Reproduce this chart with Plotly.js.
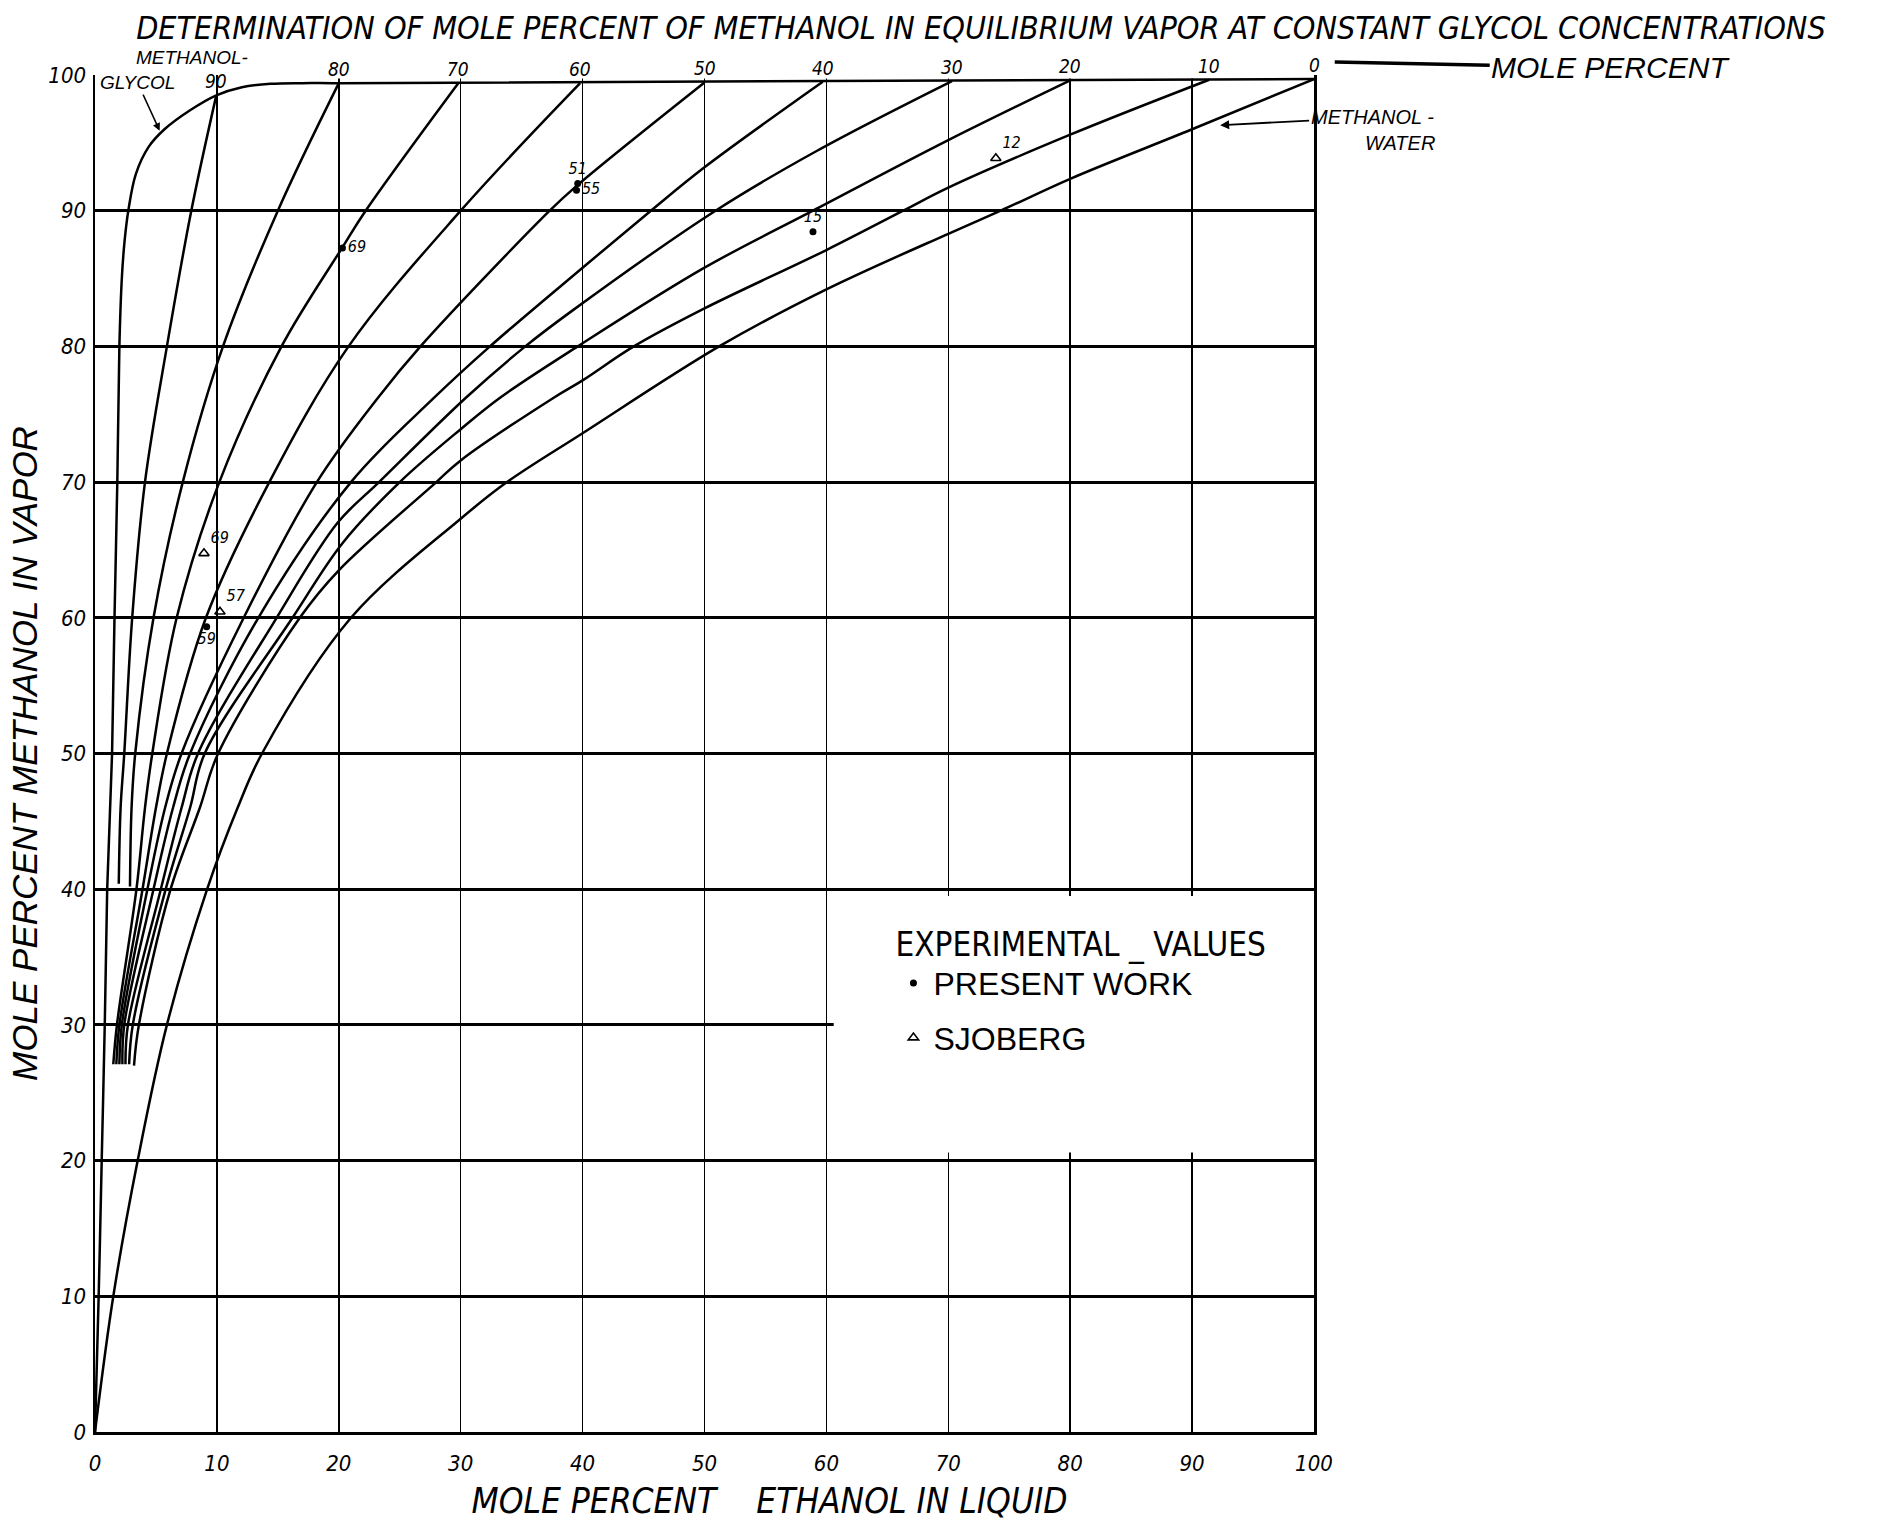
<!DOCTYPE html>
<html>
<head>
<meta charset="utf-8">
<script src="https://cdn.plot.ly/plotly-3.0.1.min.js"></script>
<style>
  html, body { margin: 0; padding: 0; background: #ffffff; }
  #chart { width: 1901px; height: 1526px; }
</style>
</head>
<body>
<div id="chart"></div>
<script>
// ---------------- DATA ----------------
// x = mole percent ethanol in liquid, y = mole percent methanol in vapor
const glycolX = [0, 0.3, 0.55, 0.8, 1.0, 1.4, 1.6, 1.83, 2.0, 2.2, 2.43, 2.75, 3.35, 4.4, 5.7, 7.8, 9.95, 12.05, 14.4, 17, 20, 100];
const glycolY = [0, 10, 20, 30, 40, 50, 60, 70, 80, 85, 87.8, 90.1, 92.7, 94.7, 96.0, 97.4, 98.5, 99.1, 99.35, 99.4, 99.4, 99.7];

const g90X = [1.95, 2.1, 2.4, 3.05, 4.1, 5.9, 7.9, 9.95];
const g90Y = [40.4, 46, 50, 60, 70, 80, 90, 98.5];

const g80X = [2.87, 3.0, 3.3, 4.8, 7.2, 10.5, 15.0, 20];
const g80Y = [40.2, 46, 50, 60, 70, 80, 90, 99.4];

const g70X = [1.5, 1.8, 3.4, 4.1, 4.7, 6.7, 10.2, 15.3, 20.3, 22.2, 29.8];
const g70Y = [27.1, 30, 40, 46, 50, 60, 70, 80, 87.3, 90, 99.4];

const g60X = [1.75, 2.0, 3.9, 5.0, 5.9, 9.1, 14.3, 20.8, 30.0, 39.8];
const g60Y = [27.1, 30, 40, 46, 50, 60, 70, 80, 90, 99.4];

const g50X = [2.0, 2.2, 4.3, 5.75, 7.1, 12.2, 18.2, 23.2, 26.7, 37.3, 39.6, 50];
const g50Y = [27.1, 30, 40, 46, 50, 60, 70, 76.2, 80, 90, 91.9, 99.45];

const g40X = [2.25, 2.4, 4.8, 6.4, 7.8, 13.4, 21.0, 27.8, 32.4, 40, 45.6, 50, 59.7];
const g40Y = [27.1, 30, 40, 46, 50, 60, 70, 76.2, 80, 85.8, 90, 93.2, 99.5];

const g30X = [2.5, 2.7, 5.4, 7.1, 8.45, 14.9, 19.9, 23.3, 30.4, 35.3, 39.1, 50.9, 59.2, 70.3];
const g30Y = [27.1, 30, 40, 46, 50, 60, 67, 70, 76.2, 80, 82.6, 90, 94.4, 99.55];

const g20X = [2.8, 3.1, 5.8, 7.8, 9.0, 16.2, 20.3, 25, 30, 33.2, 39.6, 50, 58.9, 70, 80];
const g20Y = [27.1, 30, 40, 46, 50, 60, 65.5, 70, 73.9, 76.2, 80, 85.8, 90, 95.2, 99.6];

const g10X = [3.2, 3.6, 6.2, 8.6, 10.1, 16.8, 20, 28, 30, 37.6, 40, 44.2, 50, 60, 66.3, 70, 80, 91.4];
const g10Y = [27.0, 30, 40, 46, 50, 60, 63.5, 70, 71.6, 76.2, 77.5, 80, 82.8, 87.1, 90, 91.7, 95.6, 99.65];

const waterX = [0, 1.5, 3.5, 5.9, 9.2, 11.7, 13.7, 21, 30, 33.8, 40, 51.2, 60, 70, 74.3, 80, 90, 100];
const waterY = [0, 10, 20, 30, 40, 46, 50, 60, 67.3, 70, 73.6, 80, 84.2, 88.3, 90, 92.35, 96.0, 99.7];

// glycol concentration (mole percent) labels of the constant-glycol curves
const glycolLabels = ['90', '80', '70', '60', '50', '40', '30', '20', '10', '0'];

// experimental values
const presentX = [20.3, 39.6, 39.5, 58.9, 9.16];
const presentY = [87.25, 92.0, 91.5, 88.45, 59.34];
const presentText = ['69', '51', '55', '15', '59'];

const sjobergX = [73.9, 8.94, 10.25];
const sjobergY = [93.86, 64.75, 60.45];
const sjobergText = ['12', '69', '57'];

// axis ticks
const xTickVals = [0, 10, 20, 30, 40, 50, 60, 70, 80, 90, 100];
const xTickText = ['0', '10', '20', '30', '40', '50', '60', '70', '80', '90', '100'];
const yTickVals = [0, 10, 20, 30, 40, 50, 60, 70, 80, 90, 100];
const yTickText = ['0', '10', '20', '30', '40', '50', '60', '70', '80', '90', '100'];
const yGridVals = [10, 20, 30, 40, 50, 60, 70, 80, 90];

// ---------------- STYLE ----------------
const NARROW = '"Liberation Sans Narrow", "DejaVu Sans Condensed", "Liberation Sans", sans-serif';
const REG = '"Liberation Sans", Arial, sans-serif';
const INK = '#000000';

const curves = [
  { name: 'METHANOL-GLYCOL', x: glycolX, y: glycolY },
  { name: '90', x: g90X, y: g90Y },
  { name: '80', x: g80X, y: g80Y },
  { name: '70', x: g70X, y: g70Y },
  { name: '60', x: g60X, y: g60Y },
  { name: '50', x: g50X, y: g50Y },
  { name: '40', x: g40X, y: g40Y },
  { name: '30', x: g30X, y: g30Y },
  { name: '20', x: g20X, y: g20Y },
  { name: '10', x: g10X, y: g10Y },
  { name: '0 (METHANOL-WATER)', x: waterX, y: waterY }
];

const traces = curves.map(c => ({
  type: 'scatter', mode: 'lines', name: c.name, x: c.x, y: c.y,
  line: { color: INK, width: 2.5, shape: 'spline', smoothing: 1 },
  showlegend: false, hoverinfo: 'skip'
}));

traces.push({
  type: 'scatter', mode: 'markers+text', name: 'PRESENT WORK',
  x: presentX, y: presentY, text: presentText,
  textposition: ['middle right', 'top center', 'middle right', 'top center', 'bottom center'],
  textfont: { family: NARROW, size: 16, style: 'italic', color: INK },
  marker: { symbol: 'circle', size: 7, color: INK },
  xaxis: 'x', yaxis: 'y2', legendgroup: 'a', cliponaxis: false
});
traces.push({
  type: 'scatter', mode: 'markers+text', name: 'SJOBERG',
  x: sjobergX, y: sjobergY, text: sjobergText,
  textposition: ['top right', 'top right', 'top right'],
  textfont: { family: NARROW, size: 16, style: 'italic', color: INK },
  marker: { symbol: 'triangle-up-open', size: 9, color: INK, line: { width: 1.6, color: INK } },
  xaxis: 'x', yaxis: 'y2', legendgroup: 'b', cliponaxis: false
});

// labels at the top end of each constant-glycol curve
const annotations = curves.slice(1).map((c, i) => ({
  x: c.x[c.x.length - 1], y: c.y[c.y.length - 1], xref: 'x', yref: 'y',
  text: glycolLabels[i], showarrow: false, xanchor: 'center', yanchor: 'bottom', yshift: 1,
  font: { family: NARROW, size: 19, style: 'italic', color: INK }
}));

annotations.push({
  xref: 'paper', yref: 'paper', x: 1.017, y: 1.0096,
  text: 'MOLE PERCENT', showarrow: true, arrowhead: 0, arrowwidth: 3.5, arrowcolor: INK,
  ax: 276, ay: 6, font: { family: REG, size: 30, style: 'italic', color: INK }
});
annotations.push({
  xref: 'paper', yref: 'paper', x: (192 - 95) / 1219, y: (1432 - 58) / 1357,
  text: 'METHANOL-', showarrow: false, xanchor: 'center', yanchor: 'middle',
  font: { family: REG, size: 19, style: 'italic', color: INK }
});
annotations.push({
  xref: 'x', yref: 'y', x: 5.3, y: 95.9,
  text: 'GLYCOL', showarrow: true, arrowhead: 2, arrowsize: 1, arrowwidth: 1.5, arrowcolor: INK,
  ax: -22, ay: -48, font: { family: REG, size: 19, style: 'italic', color: INK }
});
annotations.push({
  xref: 'x', yref: 'y', x: 92.3, y: 96.3,
  text: 'METHANOL -', showarrow: true, arrowhead: 2, arrowsize: 1,
  arrowwidth: 1.8, arrowcolor: INK, ax: 152, ay: -8,
  font: { family: REG, size: 20, style: 'italic', color: INK }
});
annotations.push({
  xref: 'paper', yref: 'paper', x: (1400 - 95) / 1219, y: (1432 - 143) / 1357,
  text: 'WATER', showarrow: false, xanchor: 'center', yanchor: 'middle',
  font: { family: REG, size: 20, style: 'italic', color: INK }
});

// leading zero-width space keeps the padding from being trimmed (shifts the title right as in the original)
const pad = '\u200b' + '\u00a0'.repeat(13);
const layout = {
  width: 1901, height: 1526,
  margin: { l: 95, r: 587, t: 75, b: 94, pad: 0 },
  paper_bgcolor: '#ffffff', plot_bgcolor: '#ffffff',
  font: { family: REG, color: INK },
  showlegend: true,
  title: {
    text: 'DETERMINATION OF MOLE PERCENT OF METHANOL IN EQUILIBRIUM VAPOR AT CONSTANT GLYCOL CONCENTRATIONS',
    font: { family: NARROW, size: 32, style: 'italic', color: INK },
    xref: 'container', x: 0.516, xanchor: 'center',
    yref: 'container', y: 1 - 28 / 1526, yanchor: 'middle'
  },
  xaxis: {
    range: [0, 100], tickmode: 'array', tickvals: xTickVals, ticktext: xTickText,
    showgrid: true, gridcolor: INK, gridwidth: 1.5, zeroline: false,
    showline: true, linecolor: INK, linewidth: 3, ticks: '',
    tickfont: { family: NARROW, size: 22, style: 'italic', color: INK },
    ticklabelstandoff: 10,
    title: {
      text: pad + 'MOLE PERCENT\u00a0\u00a0\u00a0\u00a0ETHANOL IN LIQUID',
      font: { family: NARROW, size: 35, style: 'italic', color: INK }, standoff: 14
    },
    fixedrange: true
  },
  yaxis: {
    range: [0, 100], tickmode: 'array', tickvals: yTickVals, ticktext: yTickText,
    showgrid: false, zeroline: false, showline: true, mirror: true,
    linecolor: INK, linewidth: 2.5, ticks: '',
    tickfont: { family: NARROW, size: 22, style: 'italic', color: INK },
    ticklabelstandoff: 2,
    title: {
      text: 'MOLE PERCENT METHANOL IN VAPOR',
      font: { family: REG, size: 35, style: 'italic', color: INK }, standoff: 0
    },
    fixedrange: true
  },
  yaxis2: {
    overlaying: 'y', range: [0, 100], tickmode: 'array', tickvals: yGridVals,
    showticklabels: false, showgrid: true, gridcolor: INK, gridwidth: 3,
    zeroline: false, showline: false, ticks: '', fixedrange: true
  },
  shapes: [
    { type: 'rect', layer: 'between', xref: 'x', yref: 'y', x0: 60.6, x1: 100, y0: 20.6, y1: 39.5,
      fillcolor: '#ffffff', line: { width: 0 } },
    { type: 'rect', layer: 'between', xref: 'x', yref: 'y', x0: 11, x1: 99.8, y0: 99.75, y1: 100,
      fillcolor: '#ffffff', line: { width: 0 } }
  ],
  legend: {
    x: 0.655, y: 0.3826, xanchor: 'left', yanchor: 'top',
    bgcolor: 'rgba(0,0,0,0)', borderwidth: 0,
    font: { family: REG, size: 32, color: INK },
    title: { text: 'EXPERIMENTAL\u00a0_\u00a0VALUES', side: 'top', font: { family: NARROW, size: 33, color: INK } },
    tracegroupgap: 10, itemwidth: 30
  },
  annotations: annotations
};

Plotly.newPlot('chart', traces, layout, { staticPlot: true, displayModeBar: false });
</script>
</body>
</html>
